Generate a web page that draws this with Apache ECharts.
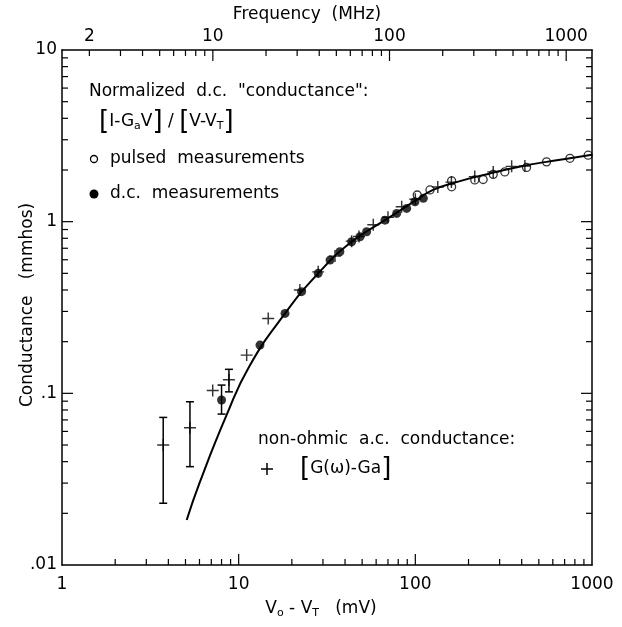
<!DOCTYPE html>
<html>
<head>
<meta charset="utf-8">
<script src="https://cdn.jsdelivr.net/npm/echarts@6/dist/echarts.min.js"></script>
<style>
  html, body { margin: 0; padding: 0; background: #fff; }
  #main { width: 622px; height: 627px; }
</style>
</head>
<body>
<div id="main"></div>
<script>
// theory curve, V0-VT (mV) vs conductance (mmhos)
var curveV = [5.08, 6.0, 8.55, 11.5, 18.3, 28.2, 43.6, 67.3, 99.5, 126, 171, 264, 406, 553, 750, 1000];
var curveG = [0.0183, 0.030, 0.0748, 0.144, 0.292, 0.50, 0.764, 1.02, 1.32, 1.53, 1.70, 1.91, 2.11, 2.23, 2.34, 2.45];

// d.c. measurements (filled dots)
var dcV = [8.0, 13.2, 18.3, 22.7, 28.2, 32.9, 37.4, 43.6, 48.6, 53.0, 67.3, 78.4, 89.3, 99.5, 111];
var dcG = [0.0915, 0.191, 0.292, 0.391, 0.50, 0.597, 0.668, 0.764, 0.817, 0.873, 1.02, 1.117, 1.195, 1.306, 1.367];

// pulsed measurements (open circles)
var pulsedV = [102.5, 121, 160.5, 160.5, 217, 242, 276, 321, 426, 553, 750, 951];
var pulsedG = [1.43, 1.53, 1.73, 1.596, 1.75, 1.76, 1.886, 1.95, 2.07, 2.23, 2.34, 2.44];

// non-ohmic a.c. conductance (crosses)
var acV = [3.74, 5.30, 7.13, 8.81, 11.1, 14.7, 22.2, 28.2, 35.1, 43.6, 48, 57.8, 70, 83.7, 100, 134, 160, 217, 276, 351, 417];
var acG = [0.050, 0.063, 0.104, 0.120, 0.167, 0.273, 0.40, 0.51, 0.63, 0.77, 0.82, 0.96, 1.06, 1.22, 1.35, 1.59, 1.70, 1.83, 1.95, 2.10, 2.11];

// error bars
var errV = [3.74, 5.30, 8.0, 8.81];
var errLo = [0.0229, 0.0374, 0.0757, 0.102];
var errHi = [0.0724, 0.0893, 0.1117, 0.138];

// ticks
var xMinorTicks = [2, 3, 4, 5, 6, 7, 8, 9, 20, 30, 40, 50, 60, 70, 80, 90, 200, 300, 400, 500, 600, 700, 800, 900];
var xMajorTicks = [10, 100];
var yMinorTicks = [0.02, 0.03, 0.04, 0.05, 0.06, 0.07, 0.08, 0.09, 0.2, 0.3, 0.4, 0.5, 0.6, 0.7, 0.8, 0.9, 2, 3, 4, 5, 6, 7, 8, 9];
var yMajorTicks = [0.1, 1];
var freqMinorTicks = [2, 3, 4, 5, 6, 7, 8, 9, 20, 30, 40, 50, 60, 70, 80, 90, 200, 300, 400, 500, 600, 700, 800, 900];
var freqMajorTicks = [10, 100, 1000];
var freqLabels = [2, 10, 100, 1000];

var FONT = 'DejaVu Sans';
var xMin = 1, xMax = 1000, yMin = 0.01, yMax = 10;
var fMin = 1.4, fMax = 1400;

function pairs(a, b) {
  return a.map(function (v, i) { return [v, b[i]]; });
}
function withLen(list, len) {
  return list.map(function (v) { return [v, len]; });
}
function seg(x1, y1, x2, y2) {
  return { type: 'line', shape: { x1: x1, y1: y1, x2: x2, y2: y2 }, style: { stroke: '#000', lineWidth: 1.2 } };
}

var myChart = echarts.init(document.getElementById('main'));

var option = {
  animation: false,
  backgroundColor: '#fff',
  grid: { left: 62, right: 30, top: 50, bottom: 62, containLabel: false, outerBoundsMode: 'none' },
  xAxis: [
    {
      type: 'log', min: xMin, max: xMax, position: 'bottom',
      axisLine: { lineStyle: { color: '#000', width: 1.5 } },
      axisTick: { show: false },
      splitLine: { show: false },
      axisLabel: {
        color: '#000', fontFamily: FONT, fontSize: 17, margin: 11,
        formatter: function (v) { return String(v); }
      }
    },
    {
      type: 'log', min: fMin, max: fMax, position: 'top',
      axisLine: { lineStyle: { color: '#000', width: 1.5 } },
      axisTick: { show: false },
      splitLine: { show: false },
      axisLabel: { show: false }
    }
  ],
  yAxis: [
    {
      type: 'log', min: yMin, max: yMax, position: 'left',
      axisLine: { lineStyle: { color: '#000', width: 1.5 } },
      axisTick: { show: false },
      splitLine: { show: false },
      axisLabel: {
        color: '#000', fontFamily: FONT, fontSize: 17, margin: 5,
        formatter: function (v) { return v < 1 ? '.' + String(v).split('.')[1] : String(v); }
      }
    },
    {
      type: 'log', min: yMin, max: yMax, position: 'right',
      axisLine: { lineStyle: { color: '#000', width: 1.5 } },
      axisTick: { show: false },
      splitLine: { show: false },
      axisLabel: { show: false }
    }
  ],
  graphic: [
    { type: 'text', x: 307, y: 15, style: { text: 'Frequency  (MHz)', fontFamily: FONT, fontSize: 17, fill: '#000', align: 'center', verticalAlign: 'middle' } },
    { type: 'text', x: 28, y: 305, rotation: Math.PI / 2, style: { text: 'Conductance   (mmhos)', fontFamily: FONT, fontSize: 17, fill: '#000', align: 'center', verticalAlign: 'middle' } },
    {
      type: 'text', x: 321, y: 609,
      style: {
        text: 'V{s|o} - V{s|T}   (mV)', fontFamily: FONT, fontSize: 17, fill: '#000', align: 'center', verticalAlign: 'middle',
        rich: { s: { fontFamily: FONT, fontSize: 11, fill: '#000', padding: [9, 0, 0, 0] } }
      }
    },
    { type: 'text', x: 89, y: 92, style: { text: 'Normalized  d.c.  "conductance":', fontFamily: FONT, fontSize: 17, fill: '#000', verticalAlign: 'middle' } },
    {
      type: 'text', x: 99, y: 122,
      style: {
        text: '{b|[}I-G{s|a}V{b|]} / {b|[}V-V{s|T}{b|]}', fontFamily: FONT, fontSize: 17, fill: '#000', verticalAlign: 'middle',
        rich: {
          b: { fontFamily: FONT, fontSize: 26, fill: '#000' },
          s: { fontFamily: FONT, fontSize: 11, fill: '#000', padding: [9, 0, 0, 0] }
        }
      }
    },
    { type: 'circle', shape: { cx: 94, cy: 159, r: 3.5 }, style: { fill: 'none', stroke: '#000', lineWidth: 1.3 } },
    { type: 'text', x: 110, y: 159, style: { text: 'pulsed  measurements', fontFamily: FONT, fontSize: 17, fill: '#000', verticalAlign: 'middle' } },
    { type: 'circle', shape: { cx: 94, cy: 194, r: 4.5 }, style: { fill: '#000' } },
    { type: 'text', x: 110, y: 194, style: { text: 'd.c.  measurements', fontFamily: FONT, fontSize: 17, fill: '#000', verticalAlign: 'middle' } },
    { type: 'text', x: 258, y: 440, style: { text: 'non-ohmic  a.c.  conductance:', fontFamily: FONT, fontSize: 17, fill: '#000', verticalAlign: 'middle' } },
    { type: 'line', shape: { x1: 261, y1: 469, x2: 273, y2: 469 }, style: { stroke: '#000', lineWidth: 1.5 } },
    { type: 'line', shape: { x1: 267, y1: 463, x2: 267, y2: 475 }, style: { stroke: '#000', lineWidth: 1.5 } },
    {
      type: 'text', x: 300, y: 469,
      style: {
        text: '{b|[}G(ω)-Ga{b|]}', fontFamily: FONT, fontSize: 17, fill: '#000', verticalAlign: 'middle',
        rich: { b: { fontFamily: FONT, fontSize: 26, fill: '#000' } }
      }
    }
  ],
  series: [
    {
      name: 'theory', type: 'line', smooth: true, showSymbol: false,
      xAxisIndex: 0, yAxisIndex: 0,
      lineStyle: { color: '#000', width: 2 },
      data: pairs(curveV, curveG), z: 2
    },
    {
      name: 'd.c.', type: 'scatter', symbol: 'circle', symbolSize: 9,
      itemStyle: { color: '#000' },
      data: pairs(dcV, dcG), z: 3
    },
    {
      name: 'pulsed', type: 'scatter', symbol: 'circle', symbolSize: 8,
      itemStyle: { color: 'rgba(0,0,0,0)', borderColor: '#000', borderWidth: 1.3 },
      data: pairs(pulsedV, pulsedG), z: 3
    },
    {
      name: 'a.c.', type: 'scatter',
      symbol: 'path://M4.4,0H5.6V4.4H10V5.6H5.6V10H4.4V5.6H0V4.4H4.4Z', symbolSize: 12,
      itemStyle: { color: '#000' },
      data: pairs(acV, acG), z: 3
    },
    {
      name: 'error', type: 'custom',
      encode: { x: 0, y: [1, 2] },
      data: errV.map(function (v, i) { return [v, errLo[i], errHi[i]]; }),
      renderItem: function (params, api) {
        var x = api.value(0);
        var lo = api.coord([x, api.value(1)]);
        var hi = api.coord([x, api.value(2)]);
        var c = 4;
        return {
          type: 'group', children: [
            { type: 'line', shape: { x1: lo[0], y1: lo[1], x2: hi[0], y2: hi[1] }, style: { stroke: '#000', lineWidth: 1.5 } },
            { type: 'line', shape: { x1: lo[0] - c, y1: lo[1], x2: lo[0] + c, y2: lo[1] }, style: { stroke: '#000', lineWidth: 1.5 } },
            { type: 'line', shape: { x1: hi[0] - c, y1: hi[1], x2: hi[0] + c, y2: hi[1] }, style: { stroke: '#000', lineWidth: 1.5 } }
          ]
        };
      },
      z: 3
    },
    {
      // bottom ticks
      name: 'xticks', type: 'custom', silent: true,
      data: withLen(xMinorTicks, 6).concat(withLen(xMajorTicks, 11)),
      renderItem: function (params, api) {
        var p = api.coord([api.value(0), yMin]);
        return seg(p[0], p[1], p[0], p[1] - api.value(1));
      }
    },
    {
      // left and right ticks
      name: 'yticks', type: 'custom', silent: true,
      encode: { y: 0 },
      data: withLen(yMinorTicks, 6).concat(withLen(yMajorTicks, 11)),
      renderItem: function (params, api) {
        var l = api.coord([xMin, api.value(0)]);
        var r = api.coord([xMax, api.value(0)]);
        var len = api.value(1);
        return { type: 'group', children: [seg(l[0], l[1], l[0] + len, l[1]), seg(r[0], r[1], r[0] - len, r[1])] };
      }
    },
    {
      // top frequency ticks and labels
      name: 'fticks', type: 'custom', silent: true,
      xAxisIndex: 1, yAxisIndex: 0,
      data: withLen(freqMinorTicks, 6).concat(withLen(freqMajorTicks, 11)),
      renderItem: function (params, api) {
        var f = api.value(0);
        var p = api.coord([f, yMax]);
        var children = [seg(p[0], p[1], p[0], p[1] + api.value(1))];
        if (freqLabels.indexOf(f) >= 0) {
          children.push({
            type: 'text', x: p[0], y: p[1] - 5,
            style: { text: String(f), fontFamily: FONT, fontSize: 17, fill: '#000', align: 'center', verticalAlign: 'bottom' }
          });
        }
        return { type: 'group', children: children };
      }
    }
  ]
};

myChart.setOption(option);
</script>
</body>
</html>
